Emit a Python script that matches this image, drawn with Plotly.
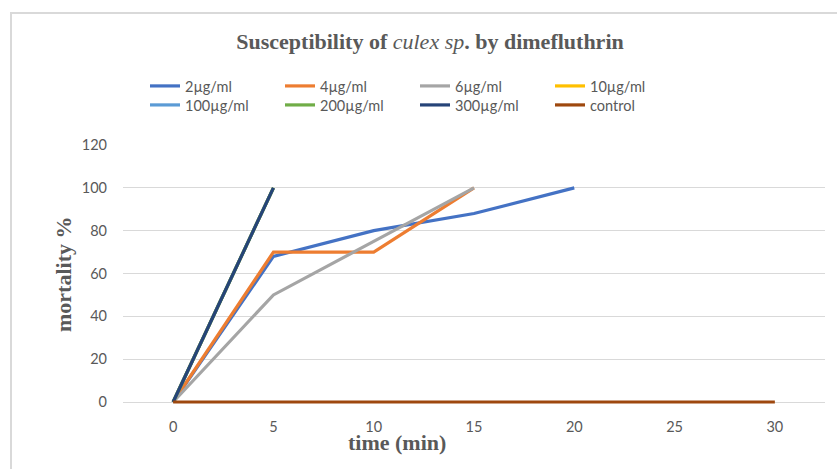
import plotly.graph_objects as go

time_min = [0, 5, 10, 15, 20, 25, 30]
series_names = ["2µg/ml", "4µg/ml", "6µg/ml", "10µg/ml", "100µg/ml", "200µg/ml", "300µg/ml", "control"]
mort_2 = [0, 68, 80, 88, 100]
mort_4 = [0, 70, 70, 100]
mort_6 = [0, 50, 75, 100]
mort_10 = [0, 100]
mort_100 = [0, 100]
mort_200 = [0, 100]
mort_300 = [0, 100]
mort_control = [0, 0, 0, 0, 0, 0, 0]
y_ticks = [0, 20, 40, 60, 80, 100, 120]

values = [mort_2, mort_4, mort_6, mort_10, mort_100, mort_200, mort_300, mort_control]
colors = ["#4472C4", "#ED7D31", "#A5A5A5", "#FFC000", "#5B9BD5", "#70AD47", "#264478", "#9E480E"]

W, H = 837, 469
L, R, T = 123, 825, 145
Y0PX = 402
YMIN = -1.4
B = Y0PX + (-YMIN) * (Y0PX - T) / 120.0

def px_x(p):
    return (p - L) / (R - L)

def px_y(p):
    return (B - p) / (B - T)

fig = go.Figure()
for i, (name, vals, col) in enumerate(zip(series_names, values, colors)):
    fig.add_trace(go.Scatter(
        x=time_min[:len(vals)], y=vals, name=name, mode="lines",
        line=dict(color=col, width=3.2),
        legend="legend" if i < 4 else "legend2",
    ))

tick_font = dict(family="Lato, Carlito, 'Liberation Sans', sans-serif", size=14.5, color="#595959")
leg_font = dict(family="Lato, Carlito, 'Liberation Sans', sans-serif", size=14.5, color="#595959")
serif = "'Liberation Serif', 'Times New Roman', serif"

common_leg = dict(orientation="h", xanchor="left", yanchor="middle", font=leg_font,
                  bgcolor="rgba(0,0,0,0)", itemwidth=30, entrywidth=90, entrywidthmode="pixels")

fig.update_layout(
    width=W, height=H,
    margin=dict(l=L, r=W - R, t=T, b=H - B),
    paper_bgcolor="white", plot_bgcolor="white",
    showlegend=True,
    legend=dict(x=px_x(145), y=px_y(86), **common_leg),
    legend2=dict(x=px_x(145), y=px_y(105), **common_leg),
    title=dict(
        text="<b>Susceptibility of </b><i>culex sp</i><b>. by dimefluthrin</b>",
        x=430 / W, y=1 - 41 / H, xanchor="center", yanchor="middle", xref="container", yref="container",
        font=dict(family=serif, size=22, color="#595959"),
    ),
    xaxis=dict(
        range=[-2.5, 32.5], tickvals=time_min, ticktext=[str(t) for t in time_min],
        showgrid=False, zeroline=False, showline=False, ticks="",
        tickfont=tick_font, ticklabelstandoff=11,
    ),
    yaxis=dict(
        range=[YMIN, 120], tickvals=y_ticks, ticktext=[str(v) for v in y_ticks],
        showgrid=True, gridcolor="#D9D9D9", gridwidth=1, zeroline=False, showline=False,
        ticks="", tickfont=tick_font, ticklabelstandoff=15,
    ),
    annotations=[
        dict(text="<b>mortality %</b>", x=px_x(63), y=px_y(275), xref="paper", yref="paper",
             textangle=-90, showarrow=False, xanchor="center", yanchor="middle",
             font=dict(family=serif, size=22, color="#595959")),
        dict(text="<b>time (min)</b>", x=px_x(397), y=px_y(442), xref="paper", yref="paper",
             showarrow=False, xanchor="center", yanchor="middle",
             font=dict(family=serif, size=22, color="#595959")),
    ],
    shapes=[
        dict(type="rect", xref="paper", yref="paper",
             x0=px_x(11), x1=px_x(845), y0=px_y(480), y1=px_y(13),
             line=dict(color="#D9D9D9", width=2), fillcolor="rgba(0,0,0,0)", layer="below"),
    ],
)

fig.write_html("out.html")
